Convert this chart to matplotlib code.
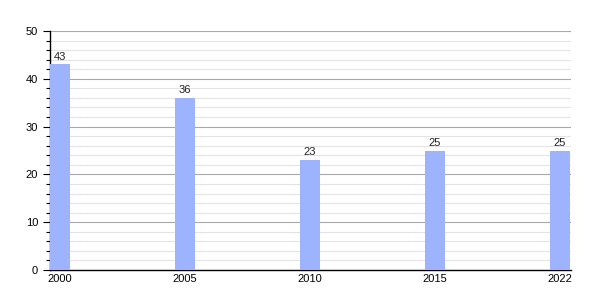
import matplotlib
matplotlib.use("Agg")
import matplotlib.pyplot as plt
from matplotlib.ticker import MultipleLocator

categories = ["2000", "2005", "2010", "2015", "2022"]
values = [43, 36, 23, 25, 25]

plt.rcParams['font.family'] = ['Liberation Sans', 'DejaVu Sans']

fig = plt.figure(figsize=(6, 3), dpi=100)
ax = fig.add_axes([50/600, 30/300, 521/600, 239/300])

x = list(range(len(categories)))
ax.bar(x, values, width=0.16, color='#9db3fd', zorder=3)
for xi, v in zip(x, values):
    ax.text(xi, v + 0.6, str(v), ha='center', va='bottom', fontsize=8, color='#222222', zorder=4)

ax.set_xlim(-0.08, 4.088)
ax.set_ylim(0, 50)
ax.set_xticks(x)
ax.set_xticklabels(categories, fontsize=8)
ax.yaxis.set_major_locator(MultipleLocator(10))
ax.yaxis.set_minor_locator(MultipleLocator(2))
ax.tick_params(axis='y', which='major', length=5, width=0.8, labelsize=8, direction='out')
ax.tick_params(axis='y', which='minor', length=3, width=0.8, direction='out')
ax.tick_params(axis='x', length=0, pad=3, labelsize=8)
ax.grid(axis='y', which='major', color='#a8a8a8', linewidth=0.8, zorder=1)
ax.grid(axis='y', which='minor', color='#e4e4e4', linewidth=0.8, zorder=0)
for s in ['top', 'right']:
    ax.spines[s].set_visible(False)
ax.spines['left'].set_linewidth(1.0)
ax.spines['bottom'].set_linewidth(1.0)

fig.savefig('out.png', dpi=100)
